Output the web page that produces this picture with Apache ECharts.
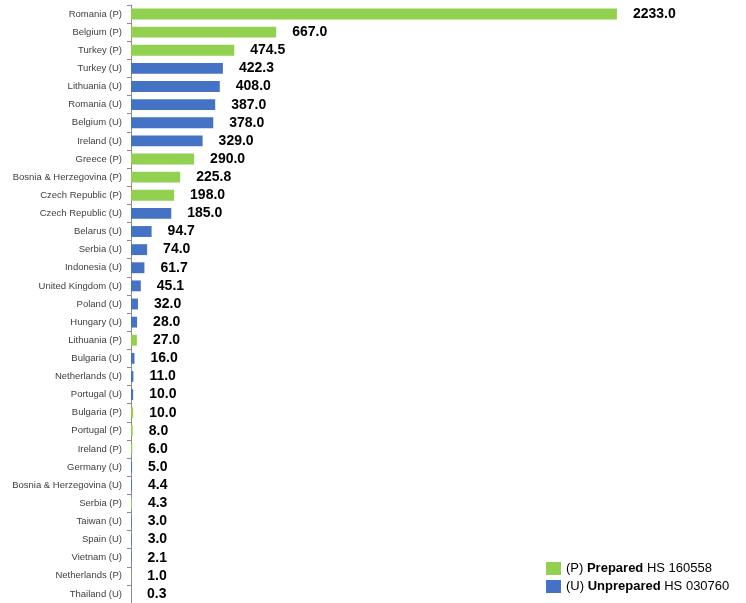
<!DOCTYPE html>
<html>
<head>
<meta charset="utf-8">
<script src="https://cdn.jsdelivr.net/npm/echarts@6/dist/echarts.min.js"></script>
<style>
  html, body { margin: 0; padding: 0; background: #fff; }
  #chart { width: 746px; height: 603px; }
</style>
</head>
<body>
<div id="chart"></div>
<script>
// Categories from top to bottom
const categories = [
  'Romania (P)', 'Belgium (P)', 'Turkey (P)', 'Turkey (U)', 'Lithuania (U)',
  'Romania (U)', 'Belgium (U)', 'Ireland (U)', 'Greece (P)', 'Bosnia & Herzegovina (P)',
  'Czech Republic (P)', 'Czech Republic (U)', 'Belarus (U)', 'Serbia (U)', 'Indonesia (U)',
  'United Kingdom (U)', 'Poland (U)', 'Hungary (U)', 'Lithuania (P)', 'Bulgaria (U)',
  'Netherlands (U)', 'Portugal (U)', 'Bulgaria (P)', 'Portugal (P)', 'Ireland (P)',
  'Germany (U)', 'Bosnia & Herzegovina (U)', 'Serbia (P)', 'Taiwan (U)', 'Spain (U)',
  'Vietnam (U)', 'Netherlands (P)', 'Thailand (U)'
];
const values = [
  2233.0, 667.0, 474.5, 422.3, 408.0,
  387.0, 378.0, 329.0, 290.0, 225.8,
  198.0, 185.0, 94.7, 74.0, 61.7,
  45.1, 32.0, 28.0, 27.0, 16.0,
  11.0, 10.0, 10.0, 8.0, 6.0,
  5.0, 4.4, 4.3, 3.0, 3.0,
  2.1, 1.0, 0.3
];
// P = prepared, U = unprepared
const kinds = categories.map(c => c.slice(-2, -1));

const seriesNames = ['(P) Prepared HS 160558', '(U) Unprepared HS 030760'];
const colors = { P: '#92D050', U: '#4472C4' };

const dataFor = k => values.map((v, i) => kinds[i] === k ? v : '-');

const label = {
  show: true,
  position: 'right',
  distance: 16,
  formatter: p => Number(p.value).toFixed(1),
  fontFamily: 'Liberation Sans',
  fontWeight: 'bold',
  fontSize: 14,
  color: '#000'
};

const chart = echarts.init(document.getElementById('chart'), null, { renderer: 'canvas' });
chart.setOption({
  animation: false,
  backgroundColor: '#fff',
  grid: { left: 131, right: 71, top: 5, height: 600, containLabel: false },
  xAxis: {
    type: 'value', min: 0, max: 2500,
    show: false, splitLine: { show: false }
  },
  yAxis: {
    type: 'category',
    data: categories,
    inverse: true,
    axisLine: { lineStyle: { color: '#8c8c8c', width: 1 } },
    axisTick: { show: true, length: 4, lineStyle: { color: '#8c8c8c' } },
    axisLabel: {
      fontFamily: 'Liberation Sans', fontSize: 9.5, color: '#404040', margin: 9
    }
  },
  legend: {
    orient: 'vertical',
    left: 541, top: 557,
    itemWidth: 15, itemHeight: 13, itemGap: 5,
    icon: 'rect',
    data: seriesNames,
    formatter: name => name.startsWith('(P)')
      ? '(P) {b|Prepared} HS 160558'
      : '(U) {b|Unprepared} HS 030760',
    textStyle: {
      fontFamily: 'Liberation Sans', fontSize: 13, color: '#000',
      rich: { b: { fontFamily: 'Liberation Sans', fontSize: 13, fontWeight: 'bold', color: '#000' } }
    }
  },
  series: [
    {
      name: seriesNames[0], type: 'bar', stack: 'all',
      data: dataFor('P'), barWidth: '60%',
      itemStyle: { color: colors.P }, label
    },
    {
      name: seriesNames[1], type: 'bar', stack: 'all',
      data: dataFor('U'), barWidth: '60%',
      itemStyle: { color: colors.U }, label
    }
  ]
});
</script>
</body>
</html>
